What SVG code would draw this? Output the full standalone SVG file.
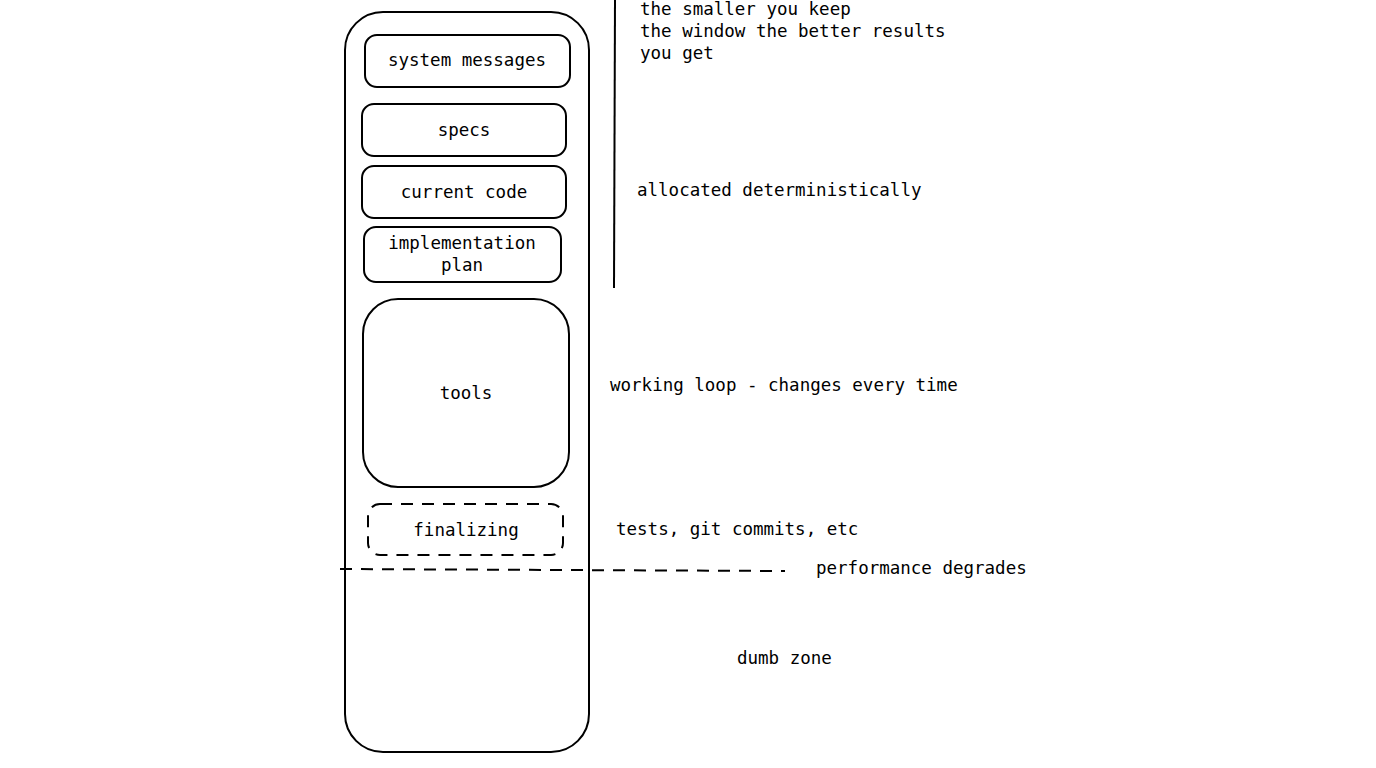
<svg xmlns="http://www.w3.org/2000/svg" width="1376" height="768" viewBox="0 0 1376 768">
<style>
.b{fill:none;stroke:#000;stroke-width:2}
.d{fill:none;stroke:#000;stroke-width:2;stroke-dasharray:12 9}
text{font-family:"DejaVu Sans Mono","Liberation Mono",monospace;font-size:17.5px;fill:#000}
.c{text-anchor:middle}
</style>
<rect width="1376" height="768" fill="#fff"/>
<g id="window"><rect class="b" x="345" y="12" width="244" height="740" rx="38"/></g>
<g id="system"><rect class="b" x="365" y="35" width="205" height="52" rx="12"/><text class="c" x="467" y="66">system messages</text></g>
<g id="specs"><rect class="b" x="362" y="104" width="204" height="52" rx="12"/><text class="c" x="464" y="136">specs</text></g>
<g id="code"><rect class="b" x="362" y="166" width="204" height="52" rx="12"/><text class="c" x="464" y="198">current code</text></g>
<g id="plan"><rect class="b" x="364" y="227" width="197" height="55" rx="12"/><text class="c" x="462" y="249">implementation</text><text class="c" x="462" y="271">plan</text></g>
<g id="tools"><rect class="b" x="363" y="299" width="206" height="188" rx="35"/><text class="c" x="466" y="399">tools</text></g>
<g id="finalizing"><rect class="d" x="368" y="504" width="195" height="51" rx="12"/><text class="c" x="466" y="536">finalizing</text></g>
<g id="connectors">
<line class="b" x1="615" y1="0" x2="614" y2="288"/>
<line class="d" x1="340" y1="569" x2="785" y2="571"/>
</g>
<g id="labels">
<text x="640" y="15">the smaller you keep</text>
<text x="640" y="37">the window the better results</text>
<text x="640" y="59">you get</text>
<text x="637" y="196">allocated deterministically</text>
<text x="610" y="391">working loop - changes every time</text>
<text x="616" y="535">tests, git commits, etc</text>
<text x="816" y="574">performance degrades</text>
<text x="737" y="664">dumb zone</text>
</g>
</svg>
